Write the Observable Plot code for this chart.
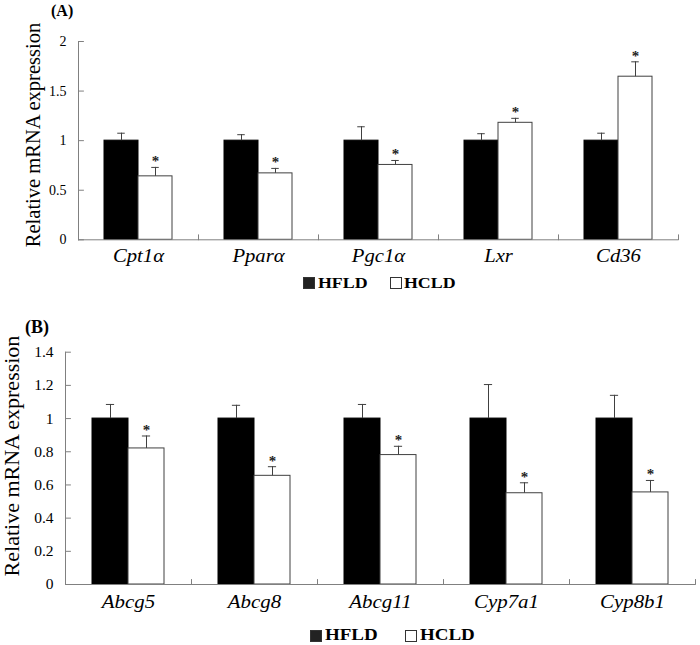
<!DOCTYPE html>
<html><head><meta charset="utf-8">
<script src="https://cdn.jsdelivr.net/npm/d3@7"></script>
<script src="https://cdn.jsdelivr.net/npm/@observablehq/plot@0.6"></script>
<style>
body{margin:0;background:#fff;}
#root{position:relative;width:700px;height:645px;overflow:hidden;font-family:"Liberation Serif","Times New Roman",serif;color:#000;background:#fff;}
.panel{position:absolute;left:0;}
.title{position:absolute;font-weight:bold;line-height:1;white-space:nowrap;}
.ylab{position:absolute;white-space:nowrap;line-height:1;transform:translate(-50%,-50%) rotate(-90deg);}
.sw{position:absolute;box-sizing:border-box;border:1px solid #333;}
.lt{position:absolute;font-weight:bold;line-height:1;white-space:nowrap;transform-origin:left top;}
</style></head><body><div id="root"></div>
<script>
// ---- data ----
const groups = ["HFLD", "HCLD"];

const genesA = ["Cpt1α", "Pparα", "Pgc1α", "Lxr", "Cd36"];
const hfldA = [1, 1, 1, 1, 1];
const hfldErrA = [0.075, 0.06, 0.14, 0.07, 0.075];
const hcldA = [0.64, 0.67, 0.755, 1.18, 1.645];
const hcldErrA = [0.09, 0.05, 0.045, 0.045, 0.15];
const yTicksA = [0, 0.5, 1, 1.5, 2];

const genesB = ["Abcg5", "Abcg8", "Abcg11", "Cyp7a1", "Cyp8b1"];
const hfldB = [1, 1, 1, 1, 1];
const hfldErrB = [0.085, 0.08, 0.085, 0.205, 0.14];
const hcldB = [0.82, 0.655, 0.78, 0.55, 0.555];
const hcldErrB = [0.075, 0.055, 0.053, 0.063, 0.072];
const yTicksB = [0, 0.2, 0.4, 0.6, 0.8, 1, 1.2, 1.4];

const yLabel = "Relative mRNA expression";

// ---- drawing ----
const root = document.getElementById("root");
const FONT = '"Liberation Serif","Times New Roman",serif';
const AXIS = "#808080", INK = "#404040";
const lineShape = {draw(ctx, l) { ctx.moveTo(0, 0); ctx.lineTo(0, -l); }};

function panel(cfg) {
  const rows = [];
  cfg.genes.forEach((g, i) => {
    rows.push({gene: g, group: "HFLD", value: cfg.hfld[i], hi: cfg.hfld[i] + cfg.hfldErr[i], sig: false});
    rows.push({gene: g, group: "HCLD", value: cfg.hcld[i], hi: cfg.hcld[i] + cfg.hcldErr[i], sig: true});
  });
  const facetW = (700 - cfg.ml - cfg.mr) / cfg.genes.length;
  const step = facetW / (2 + 2 * cfg.po);
  const capInset = (step - cfg.cap) / 2;
  const plot = Plot.plot({
    width: 700, height: cfg.height,
    marginLeft: cfg.ml, marginRight: cfg.mr, marginTop: cfg.mt, marginBottom: cfg.mb,
    style: {fontFamily: FONT, background: "transparent", color: "#000", overflow: "visible"},
    fx: {domain: cfg.genes, padding: 0, axis: null},
    x: {domain: groups, paddingInner: 0, paddingOuter: cfg.po, axis: null},
    y: {domain: cfg.yDomain, axis: null},
    color: {domain: groups, range: ["#000", "#fff"]},
    marks: [
      Plot.barY(rows, {fx: "gene", x: "group", y: "value", fill: "group", stroke: d => d.group === "HFLD" ? "#000" : INK, strokeWidth: 1}),
      Plot.ruleX(rows, {fx: "gene", x: "group", y1: "value", y2: "hi", stroke: INK, strokeWidth: 1}),
      Plot.tickY(rows, {fx: "gene", x: "group", y: "hi", insetLeft: capInset, insetRight: capInset, stroke: INK, strokeWidth: 1}),
      Plot.text(rows.filter(d => d.sig), {fx: "gene", x: "group", y: "hi", text: () => "*", dy: -6, fontSize: 15, fontWeight: "bold", fill: "#222"}),
      Plot.ruleY([0], {stroke: AXIS, strokeWidth: 1}),
      Plot.frame({anchor: "left", facetAnchor: "left", stroke: AXIS, strokeWidth: 1}),
      Plot.vector(cfg.yTicks, {y: d => d, frameAnchor: "left", facetAnchor: "left", rotate: 90, length: 5, anchor: "start", shape: lineShape, stroke: AXIS, strokeWidth: 1}),
      Plot.vector(cfg.genes, {fx: d => d, frameAnchor: "bottom-right", rotate: 0, length: 5, anchor: "start", shape: lineShape, stroke: AXIS, strokeWidth: 1}),
      Plot.axisY({ticks: cfg.yTicks, tickSize: 0, tickPadding: 12, fontSize: cfg.tickFs, label: null, tickFormat: d => String(d)}),
      Plot.axisFx({anchor: "bottom", tickSize: 0, tickPadding: cfg.catPad, fontSize: cfg.catFs, fontStyle: "italic", label: null})
    ]
  });
  // widen the category labels horizontally like the original figure
  plot.querySelectorAll('g[aria-label^="fx-axis"] text').forEach(t => {
    const tr = t.getAttribute("transform");
    if (tr) t.setAttribute("transform", tr + ` scale(${cfg.catScale},1)`);
    else {
      const x = +(t.getAttribute("x") || 0);
      t.setAttribute("x", x / cfg.catScale);
      t.setAttribute("transform", `scale(${cfg.catScale},1)`);
    }
  });
  plot.classList.add("panel");
  plot.style.top = cfg.top + "px";
  root.appendChild(plot);
}

panel({genes: genesA, hfld: hfldA, hfldErr: hfldErrA, hcld: hcldA, hcldErr: hcldErrA,
  yDomain: [0, 2], yTicks: yTicksA, top: 0, height: 275, ml: 77, mr: 21, mt: 41, mb: 35.7,
  po: 0.745, cap: 8, tickFs: 14, catFs: 18, catPad: 9, catScale: 1.15});
panel({genes: genesB, hfld: hfldB, hfldErr: hfldErrB, hcld: hcldB, hcldErr: hcldErrB,
  yDomain: [0, 1.4], yTicks: yTicksB, top: 300, height: 345, ml: 64, mr: 3.3, mt: 51.7, mb: 61,
  po: 0.72, cap: 9, tickFs: 15.5, catFs: 19, catPad: 10.5, catScale: 1.1});

function addText(cls, text, css) {
  const d = document.createElement("div");
  d.className = cls; d.textContent = text;
  Object.assign(d.style, css);
  root.appendChild(d);
  return d;
}
addText("title", "(A)", {left: "51px", top: "3px", fontSize: "16px"});
addText("title", "(B)", {left: "25px", top: "318px", fontSize: "18px"});
addText("ylab", yLabel, {left: "33px", top: "135px", fontSize: "20.5px"});
addText("ylab", yLabel, {left: "11.5px", top: "456px", fontSize: "22px"});

function legend(top, fs, items) {
  items.forEach(it => {
    const s = document.createElement("div");
    s.className = "sw";
    Object.assign(s.style, {left: it.sx + "px", top: top + "px", width: "12px", height: "12px", background: it.fill});
    root.appendChild(s);
    const t = addText("lt", it.label, {left: it.tx + "px", top: (top + 12 - fs * 0.9) + "px", fontSize: fs + "px"});
    t.style.transform = "scaleX(1.15)";
  });
}
legend(277, 15.5, [{label: groups[0], fill: "#222", sx: 303, tx: 318}, {label: groups[1], fill: "#fff", sx: 390, tx: 404}]);
legend(630, 16.5, [{label: groups[0], fill: "#222", sx: 310, tx: 325}, {label: groups[1], fill: "#fff", sx: 405, tx: 420}]);
</script>
</body></html>
